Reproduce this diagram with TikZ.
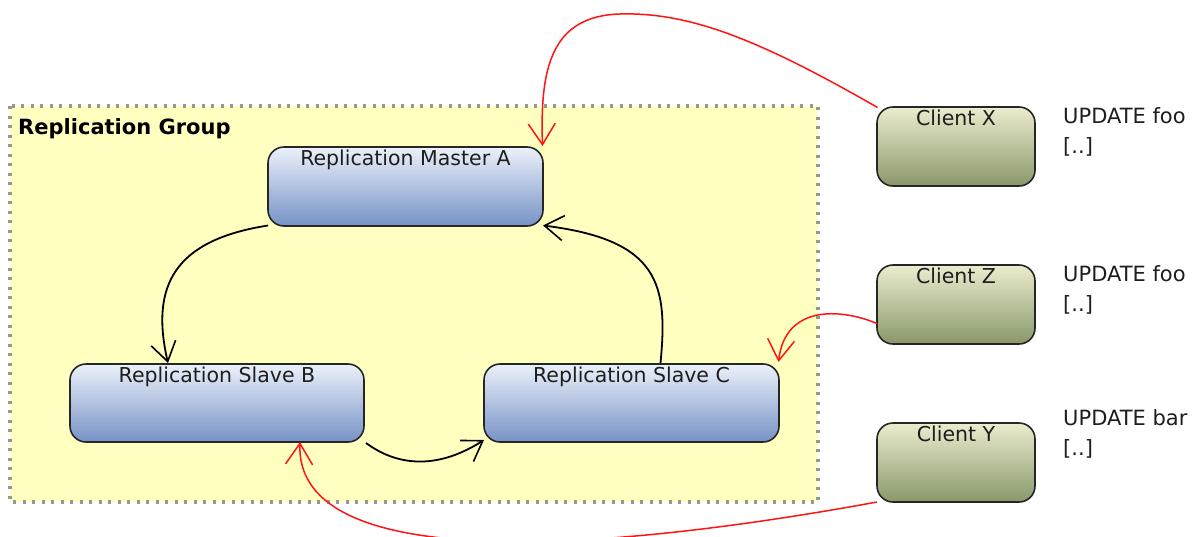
\documentclass[tikz,border=0pt]{standalone}
\usepackage{fontspec}
\setmainfont{DejaVu Sans}
\usetikzlibrary{arrows.meta}
\definecolor{grpfill}{RGB}{255,255,192}
\definecolor{grpline}{RGB}{150,150,150}
\definecolor{bluetop}{RGB}{236,241,250}
\definecolor{bluebot}{RGB}{118,146,198}
\definecolor{oltop}{RGB}{236,236,206}
\definecolor{olbot}{RGB}{136,152,106}
\definecolor{txt}{RGB}{30,30,30}
\definecolor{redline}{RGB}{255,20,20}
\tikzset{
  server/.style={draw=black!85, line width=1.6pt, rounded corners=16pt, top color=bluetop, bottom color=bluebot, inner sep=0pt},
  client/.style={draw=black!85, line width=1.6pt, rounded corners=16pt, top color=oltop, bottom color=olbot, inner sep=0pt},
  boxlabel/.style={anchor=north, text=txt, font=\fontsize{20.5}{24}\selectfont, inner sep=0pt},
  note/.style={anchor=north west, text=txt, font=\fontsize{21}{30}\selectfont, align=left, inner sep=0pt},
  blackarrow/.style={line width=1.8pt, -{Straight Barb[length=19pt,width=25pt,line width=1.6pt]}},
  redarrow/.style={draw=redline, line width=1.5pt, -{Straight Barb[length=21pt,width=27pt,line width=1.5pt]}},
}
\begin{document}
\begin{tikzpicture}[x=1pt,y=-1pt]
\useasboundingbox (0,0) rectangle (1198,536);
\fill[white] (0,0) rectangle (1198,536);
% group
\fill[grpfill] (10,106) rectangle (818,502);
\draw[grpline, line width=3.5pt, dash pattern=on 3pt off 6.5pt] (10,106) rectangle (818,502);
\node[anchor=north west, inner sep=0pt, text=black, font=\bfseries\fontsize{21}{24}\selectfont] (grp) at (18,118) {Replication Group};
% servers
\node[server, minimum width=275pt, minimum height=79pt] (A) at (405.5,186.5) {};
\node[boxlabel] (Alab) at ([yshift=-4pt]A.north) {Replication Master A};
\node[server, minimum width=294pt, minimum height=78pt] (B) at (217,403) {};
\node[boxlabel] (Blab) at ([yshift=-4pt]B.north) {Replication Slave B};
\node[server, minimum width=295pt, minimum height=78pt] (C) at (631.5,403) {};
\node[boxlabel] (Clab) at ([yshift=-4pt]C.north) {Replication Slave C};
% clients
\node[client, minimum width=158pt, minimum height=79pt] (X) at (956,146.5) {};
\node[boxlabel] (Xlab) at ([yshift=-4pt]X.north) {Client X};
\node[client, minimum width=158pt, minimum height=79pt] (Z) at (956,304.5) {};
\node[boxlabel] (Zlab) at ([yshift=-4pt]Z.north) {Client Z};
\node[client, minimum width=158pt, minimum height=79pt] (Y) at (956,462.5) {};
\node[boxlabel] (Ylab) at ([yshift=-4pt]Y.north) {Client Y};
% notes
\node[note] (nX) at (1063,107) {UPDATE foo\\{[..]}};
\node[note] (nZ) at (1063,265) {UPDATE foo\\{[..]}};
\node[note] (nY) at (1063,409) {UPDATE bar\\{[..]}};
% coordinates on the boxes
\coordinate (Abl) at (268,225.5);
\coordinate (Abr) at (543,225.5);
\coordinate (Atr) at (542.5,146);
\coordinate (Btop) at (168,363);
\coordinate (Bbr) at (366,443);
\coordinate (Bbot) at (300,442);
\coordinate (Ctop) at (660.5,363);
\coordinate (Cbl) at (484,440);
\coordinate (Ctr) at (778.5,362);
\coordinate (Xl) at (877.5,107.5);
\coordinate (Zl) at (877,323.5);
\coordinate (Yl) at (877,502);
% black connectors
\draw[blackarrow] (Abl) .. controls (175,240) and (150,285) .. (Btop);
\draw[blackarrow] (Ctop) .. controls (668,285) and (660,240) .. (Abr);
\draw[blackarrow] (Bbr) .. controls (400,468) and (440,468) .. (Cbl);
% red connectors
\begin{scope}
\clip (0,0) rectangle (1198,536);
\draw[redarrow] (Xl) .. controls (760,40) and (690,12) .. (620,14) .. controls (550,16) and (540,70) .. (Atr);
\draw[redarrow] (Zl) .. controls (840,308) and (785,305) .. (Ctr);
\draw[redarrow] (Yl) .. controls (560,560) and (295,565) .. (Bbot);
\end{scope}
\end{tikzpicture}
\end{document}
